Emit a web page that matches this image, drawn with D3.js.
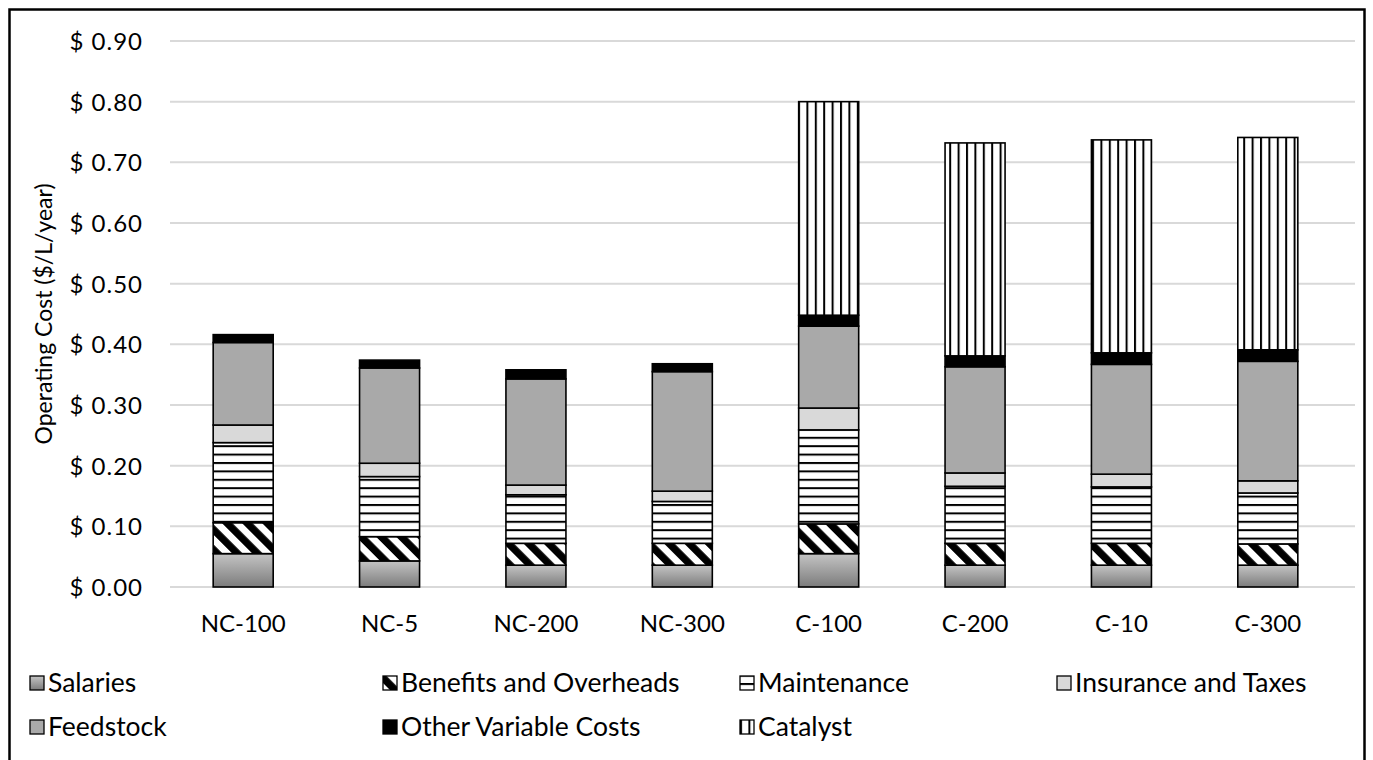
<!DOCTYPE html>
<html>
<head>
<meta charset="utf-8">
<script src="https://cdn.jsdelivr.net/npm/d3@7"></script>
<style>
  html, body { margin: 0; padding: 0; background: #fff; }
  svg { display: block; }
  text { font-family: Lato, "Open Sans", sans-serif; fill: #000; }
</style>
</head>
<body>
<svg id="chart" width="1373" height="760"></svg>
<script>
// Plant configurations along the x axis
const categories = ["NC-100", "NC-5", "NC-200", "NC-300", "C-100", "C-200", "C-10", "C-300"];

// Operating cost components, $/L/year, one value per configuration
const salaries      = [0.055, 0.043, 0.036, 0.036, 0.055, 0.036, 0.036, 0.036];
const benefits      = [0.051, 0.040, 0.036, 0.036, 0.049, 0.036, 0.036, 0.035];
const maintenance   = [0.132, 0.099, 0.080, 0.069, 0.155, 0.094, 0.093, 0.084];
const insurance     = [0.029, 0.022, 0.016, 0.017, 0.036, 0.022, 0.021, 0.020];
const feedstock     = [0.136, 0.157, 0.175, 0.197, 0.135, 0.175, 0.181, 0.197];
const otherVariable = [0.013, 0.013, 0.015, 0.013, 0.018, 0.018, 0.019, 0.019];
const catalyst      = [0.000, 0.000, 0.000, 0.000, 0.352, 0.351, 0.351, 0.350];

const seriesNames = ["Salaries", "Benefits and Overheads", "Maintenance", "Insurance and Taxes",
                     "Feedstock", "Other Variable Costs", "Catalyst"];
const seriesValues = [salaries, benefits, maintenance, insurance, feedstock, otherVariable, catalyst];

// Y axis ticks
const yTicks = [0, 0.1, 0.2, 0.3, 0.4, 0.5, 0.6, 0.7, 0.8, 0.9];

const svg = d3.select("#chart");

// Fill patterns for each cost component
const defs = svg.append("defs");

const grad = defs.append("linearGradient").attr("id", "fill-salaries")
  .attr("x1", 0).attr("y1", 0).attr("x2", 0).attr("y2", 1);
grad.append("stop").attr("offset", "0%").attr("stop-color", "#c4c4c4");
grad.append("stop").attr("offset", "100%").attr("stop-color", "#7c7c7c");

const diag = defs.append("pattern").attr("id", "fill-benefits")
  .attr("patternUnits", "userSpaceOnUse").attr("width", 14.2).attr("height", 14.2)
  .attr("patternTransform", "rotate(-45)");
diag.append("rect").attr("width", 14.2).attr("height", 14.2).attr("fill", "#fff");
diag.append("rect").attr("width", 7.4).attr("height", 14.2).attr("fill", "#000");

const horiz = defs.append("pattern").attr("id", "fill-maintenance")
  .attr("patternUnits", "userSpaceOnUse").attr("width", 10).attr("height", 8.4);
horiz.append("rect").attr("width", 10).attr("height", 8.4).attr("fill", "#fff");
horiz.append("rect").attr("width", 10).attr("height", 2).attr("fill", "#000");

const vert = defs.append("pattern").attr("id", "fill-catalyst")
  .attr("patternUnits", "userSpaceOnUse").attr("width", 8.4).attr("height", 10);
vert.append("rect").attr("width", 8.4).attr("height", 10).attr("fill", "#fff");
vert.append("rect").attr("width", 2).attr("height", 10).attr("fill", "#000");

const fills = ["url(#fill-salaries)", "url(#fill-benefits)", "url(#fill-maintenance)", "#d9d9d9",
               "#a9a9a9", "#000000", "url(#fill-catalyst)"];

// Outer frame
svg.append("rect")
  .attr("x", 9.5).attr("y", 9.5).attr("width", 1355).attr("height", 800)
  .attr("fill", "none").attr("stroke", "#000").attr("stroke-width", 2.5);

// Scales
const plotLeft = 170, plotRight = 1355;
const x = d3.scaleBand().domain(categories).range([170, 1341]).paddingInner(0.59).paddingOuter(0.295);
const y = d3.scaleLinear().domain([0, 0.9]).range([587, 41]);

// Gridlines
svg.append("g")
  .selectAll("line").data(yTicks).join("line")
  .attr("x1", plotLeft).attr("x2", plotRight)
  .attr("y1", d => y(d)).attr("y2", d => y(d))
  .attr("stroke", "#d9d9d9").attr("stroke-width", 2);

// Y axis labels
const yAxis = svg.append("g").attr("transform", "translate(143,0)")
  .call(d3.axisLeft(y).tickValues(yTicks).tickSize(0).tickPadding(0)
    .tickFormat(d => "$ " + d3.format(".2f")(d)));
yAxis.select(".domain").remove();
yAxis.selectAll("text").attr("font-size", 24).attr("font-family", "Lato, sans-serif")
  .attr("letter-spacing", "1px").attr("dy", "0.35em");

// X axis labels
const xAxis = svg.append("g").attr("transform", "translate(0,587)")
  .call(d3.axisBottom(x).tickSize(0).tickPadding(28));
xAxis.select(".domain").remove();
xAxis.selectAll("text").attr("font-size", 24).attr("font-family", "Lato, sans-serif");

// Y axis title
svg.append("text")
  .attr("transform", `translate(52,${(y(0) + y(0.9)) / 2}) rotate(-90)`)
  .attr("text-anchor", "middle")
  .attr("font-size", 23)
  .text("Operating Cost ($/L/year)");

// Stacked bars
const table = categories.map((c, i) => {
  const row = { category: c };
  seriesNames.forEach((s, j) => { row[s] = seriesValues[j][i]; });
  return row;
});
const stacked = d3.stack().keys(seriesNames)(table);

svg.append("g").selectAll("g").data(stacked).join("g")
  .attr("fill", (d, i) => fills[i])
  .selectAll("rect").data(d => d.filter(p => p[1] - p[0] > 0)).join("rect")
  .attr("x", d => x(d.data.category))
  .attr("width", x.bandwidth())
  .attr("y", d => y(d[1]))
  .attr("height", d => y(d[0]) - y(d[1]))
  .attr("stroke", "#000").attr("stroke-width", 1.6);

// Legend
const legendCols = [30, 383, 740, 1057];
const legendRows = [683, 727];
const legend = svg.append("g").selectAll("g").data(seriesNames).join("g")
  .attr("transform", (d, i) => `translate(${legendCols[i % 4]},${legendRows[Math.floor(i / 4)]})`);
legend.append("rect")
  .attr("x", 0).attr("y", -7).attr("width", 14).attr("height", 14)
  .attr("fill", (d, i) => fills[i]).attr("stroke", "#000").attr("stroke-width", 1.3);
legend.append("text")
  .attr("x", 18).attr("dy", "0.35em")
  .attr("font-size", 26.5)
  .text(d => d);
</script>
</body>
</html>
